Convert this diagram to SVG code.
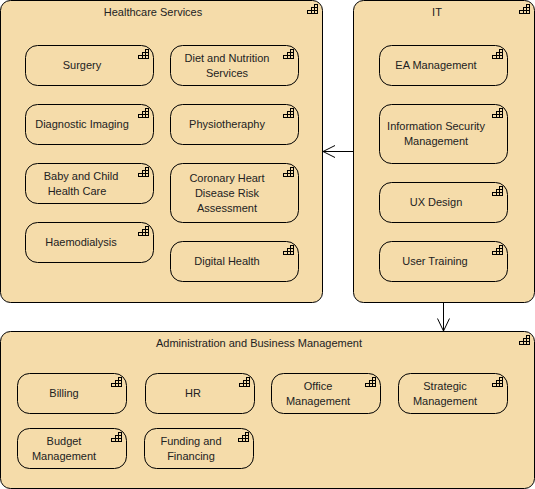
<svg xmlns="http://www.w3.org/2000/svg" width="535" height="489" viewBox="0 0 535 489">
<style>
.b{fill:#f5dcaa;stroke:#000;stroke-width:1}
.i{fill:none;stroke:#000;stroke-width:1;shape-rendering:crispEdges}
.c{fill:none;stroke:#000;stroke-width:1}
text{font-family:"Liberation Sans",Arial,sans-serif;font-size:11px;fill:#222;text-anchor:middle}
</style>
<defs>
<path id="ic" class="i" d="M7.500 .5H10.500V9.500H.5V6.500H4.500V3.500H7.500ZM7.500 .5V9.500M4.500 3.500V9.500M4.500 3.500H10.500M.5 6.500H10.500"/>
</defs>
<rect width="535" height="489" fill="#fff"/>
<g id="healthcare"><rect class="b" x="0.500" y="0.500" width="322" height="302" rx="10"/><use href="#ic" x="307" y="4"/><text x="153" y="16">Healthcare Services</text></g>
<g id="it"><rect class="b" x="353.500" y="0.500" width="181" height="302" rx="10"/><use href="#ic" x="519" y="4"/><text x="437" y="16">IT</text></g>
<g id="admin"><rect class="b" x="0.500" y="331.500" width="534" height="157" rx="10"/><use href="#ic" x="519" y="335"/><text x="259" y="347">Administration and Business Management</text></g>

<g id="surgery"><rect class="b" x="25.500" y="45.500" width="128" height="40" rx="12"/><use href="#ic" x="138" y="49"/><text x="82" y="69">Surgery</text></g>
<g id="diet"><rect class="b" x="170.500" y="45.500" width="128" height="40" rx="12"/><use href="#ic" x="283" y="49"/><text x="227" y="62">Diet and Nutrition</text><text x="227" y="77">Services</text></g>
<g id="imaging"><rect class="b" x="25.500" y="104.500" width="128" height="40" rx="12"/><use href="#ic" x="138" y="108"/><text x="82" y="128">Diagnostic Imaging</text></g>
<g id="physio"><rect class="b" x="170.500" y="104.500" width="128" height="40" rx="12"/><use href="#ic" x="283" y="108"/><text x="227" y="128">Physiotheraphy</text></g>
<g id="baby"><rect class="b" x="25.500" y="163.500" width="128" height="40" rx="12"/><use href="#ic" x="138" y="167"/><text x="81" y="180">Baby and Child</text><text x="77" y="195">Health Care</text></g>
<g id="coronary"><rect class="b" x="170.500" y="163.500" width="128" height="59" rx="12"/><use href="#ic" x="283" y="167"/><text x="227" y="182">Coronary Heart</text><text x="227" y="197">Disease Risk</text><text x="227" y="212">Assessment</text></g>
<g id="haemo"><rect class="b" x="25.500" y="222.500" width="128" height="40" rx="12"/><use href="#ic" x="138" y="226"/><text x="81" y="246">Haemodialysis</text></g>
<g id="digital"><rect class="b" x="170.500" y="241.500" width="128" height="40" rx="12"/><use href="#ic" x="283" y="245"/><text x="227" y="265">Digital Health</text></g>

<g id="ea"><rect class="b" x="379.500" y="45.500" width="128" height="40" rx="12"/><use href="#ic" x="492" y="49"/><text x="436" y="69">EA Management</text></g>
<g id="infosec"><rect class="b" x="379.500" y="104.500" width="128" height="59" rx="12"/><use href="#ic" x="492" y="108"/><text x="436" y="130">Information Security</text><text x="436" y="145">Management</text></g>
<g id="ux"><rect class="b" x="379.500" y="182.500" width="128" height="40" rx="12"/><use href="#ic" x="492" y="186"/><text x="436" y="206">UX Design</text></g>
<g id="training"><rect class="b" x="379.500" y="241.500" width="128" height="40" rx="12"/><use href="#ic" x="492" y="245"/><text x="435" y="265">User Training</text></g>

<g id="billing"><rect class="b" x="17.500" y="373.500" width="109" height="40" rx="12"/><use href="#ic" x="111" y="377"/><text x="64" y="397">Billing</text></g>
<g id="hr"><rect class="b" x="145.500" y="373.500" width="109" height="40" rx="12"/><use href="#ic" x="239" y="377"/><text x="193" y="397">HR</text></g>
<g id="office"><rect class="b" x="271.500" y="373.500" width="109" height="40" rx="12"/><use href="#ic" x="365" y="377"/><text x="318" y="390">Office</text><text x="318" y="405">Management</text></g>
<g id="strategic"><rect class="b" x="398.500" y="373.500" width="109" height="40" rx="12"/><use href="#ic" x="492" y="377"/><text x="445" y="390">Strategic</text><text x="445" y="405">Management</text></g>
<g id="budget"><rect class="b" x="17.500" y="428.500" width="109" height="40" rx="12"/><use href="#ic" x="111" y="432"/><text x="64" y="445">Budget</text><text x="64" y="460">Management</text></g>
<g id="funding"><rect class="b" x="144.500" y="428.500" width="109" height="40" rx="12"/><use href="#ic" x="238" y="432"/><text x="191" y="445">Funding and</text><text x="191" y="460">Financing</text></g>

<g id="connectors">
<path class="c" d="M353 151.500H323M335 145.500L323 151.500L335 157.500"/>
<path class="c" d="M443.500 303V331M437.500 318.500L443.500 331L449.500 318.500"/>
</g>
</svg>
